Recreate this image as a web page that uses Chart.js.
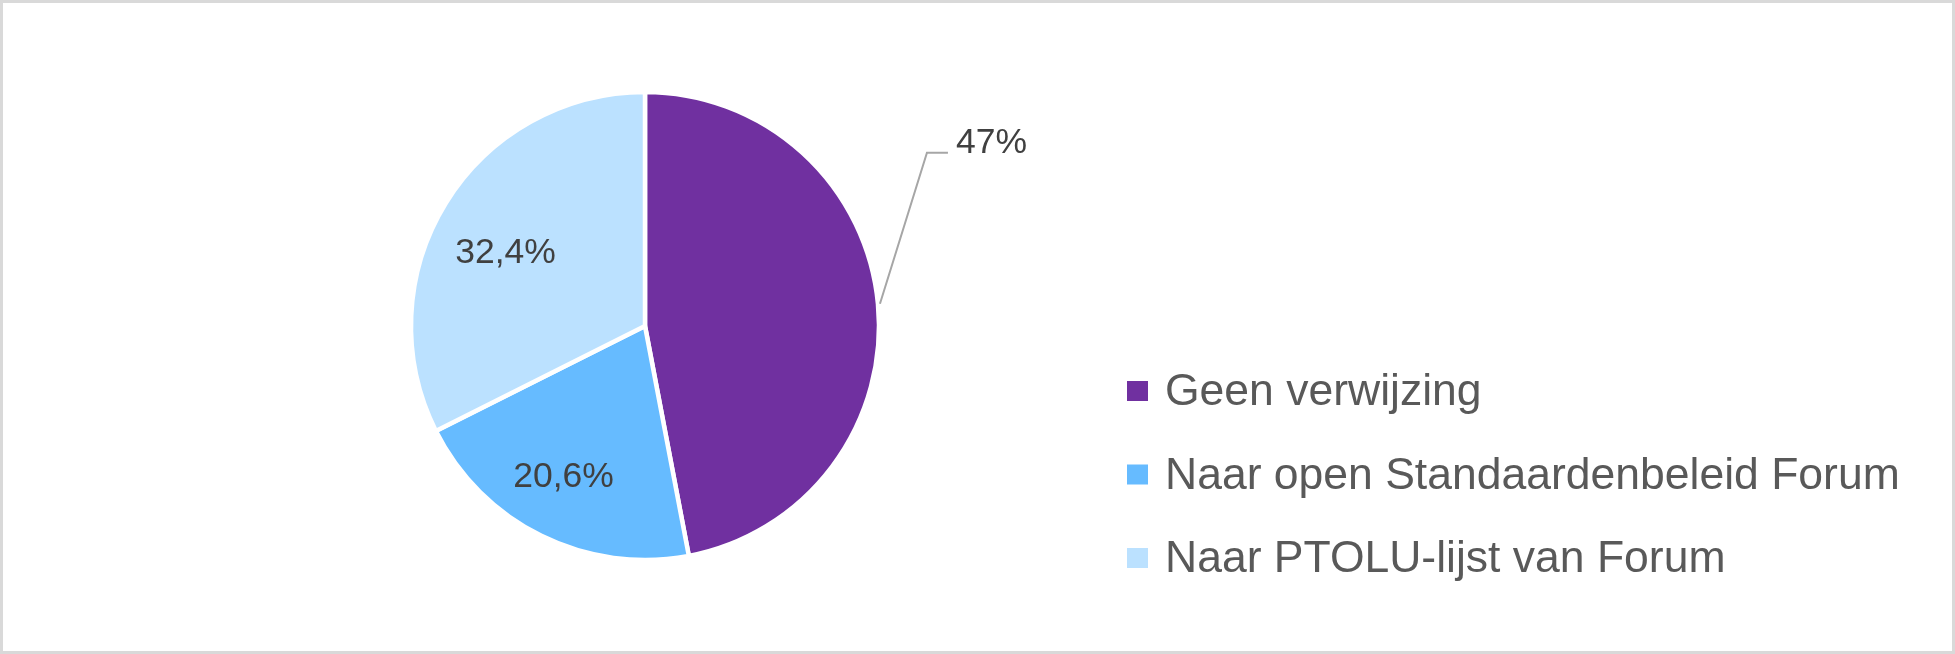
<!DOCTYPE html>
<html>
<head>
<meta charset="utf-8">
<script src="https://cdn.jsdelivr.net/npm/chart.js@4/dist/chart.umd.min.js"></script>
<style>
    html, body { margin: 0; padding: 0; background: #fff; }
    #wrap { position: relative; width: 1955px; height: 654px; }
    #frame { position: absolute; left: 0; top: 0; width: 1955px; height: 654px; box-sizing: border-box; border: 3px solid #d9d9d9; pointer-events: none; }
</style>
</head>
<body>
<div id="wrap">
    <canvas id="verwijzingChart"></canvas>
    <div id="frame"></div>
</div>
<script>
const categories = ['Geen verwijzing', 'Naar open Standaardenbeleid Forum', 'Naar PTOLU-lijst van Forum'];
const percentages = [47, 20.6, 32.4];
const valueLabels = ['47%', '20,6%', '32,4%'];
const sliceColors = ['#7030a0', '#66bbff', '#bbe1ff'];

// labels inside the slice, except the first one which sits outside with a leader line
const labelPlugin = {
    id: 'sliceLabels',
    afterDatasetsDraw(chart) {
        const ctx = chart.ctx;
        const meta = chart.getDatasetMeta(0);
        const nudge = [[0, 0], [-10, 4], [-2, 9]]; // small best-fit shifts like Excel does
        ctx.save();
        ctx.font = '35.5px "Liberation Sans", Arial, sans-serif';
        ctx.fillStyle = '#404040';
        ctx.textBaseline = 'alphabetic';
        meta.data.forEach((arc, i) => {
            const p = arc.getProps(['x', 'y', 'startAngle', 'endAngle', 'outerRadius'], true);
            const mid = (p.startAngle + p.endAngle) / 2;
            const text = valueLabels[i];
            if (i === 0) {
                const ex = p.x + Math.cos(mid) * (p.outerRadius + 2);
                const ey = p.y + Math.sin(mid) * (p.outerRadius + 2);
                const bx = ex + 47, by = ey - 151;
                ctx.strokeStyle = '#a6a6a6';
                ctx.lineWidth = 2;
                ctx.beginPath();
                ctx.moveTo(ex, ey);
                ctx.lineTo(bx, by);
                ctx.lineTo(bx + 21, by);
                ctx.stroke();
                ctx.textAlign = 'left';
                ctx.fillText(text, bx + 29, by);
            } else {
                const r = p.outerRadius * 0.69;
                const lx = p.x + Math.cos(mid) * r + nudge[i][0];
                const ly = p.y + Math.sin(mid) * r + nudge[i][1];
                ctx.textAlign = 'center';
                ctx.fillText(text, lx, ly + 12.5);
            }
        });
        ctx.restore();
    }
};

const legendPlugin = {
    id: 'sideLegend',
    afterDraw(chart) {
        const ctx = chart.ctx;
        const colors = chart.data.datasets[0].backgroundColor;
        ctx.save();
        ctx.font = '44.5px "Liberation Sans", Arial, sans-serif';
        ctx.textAlign = 'left';
        ctx.textBaseline = 'alphabetic';
        chart.data.labels.forEach((label, i) => {
            const cy = 391 + i * 83.5;
            ctx.fillStyle = colors[i];
            ctx.fillRect(1127, cy - 10, 21, 20);
            ctx.fillStyle = '#595959';
            ctx.fillText(label, 1165, cy + 14);
        });
        ctx.restore();
    }
};

const ctx = document.getElementById('verwijzingChart').getContext('2d');

const data = {
    labels: categories,
    datasets: [{
        data: percentages,
        backgroundColor: sliceColors,
        borderColor: '#ffffff',
        borderWidth: 4.5,
        radius: 234
    }]
};

const config = {
    type: 'pie',
    data: data,
    options: {
        responsive: true,
        maintainAspectRatio: false,
        animation: false,
        layout: {
            padding: { left: 412, right: 1077, top: 93, bottom: 95 }
        },
        plugins: {
            legend: { display: false },
            tooltip: { enabled: false }
        }
    },
    plugins: [labelPlugin, legendPlugin]
};

const verwijzingChart = new Chart(ctx, config);
</script>
</body>
</html>
